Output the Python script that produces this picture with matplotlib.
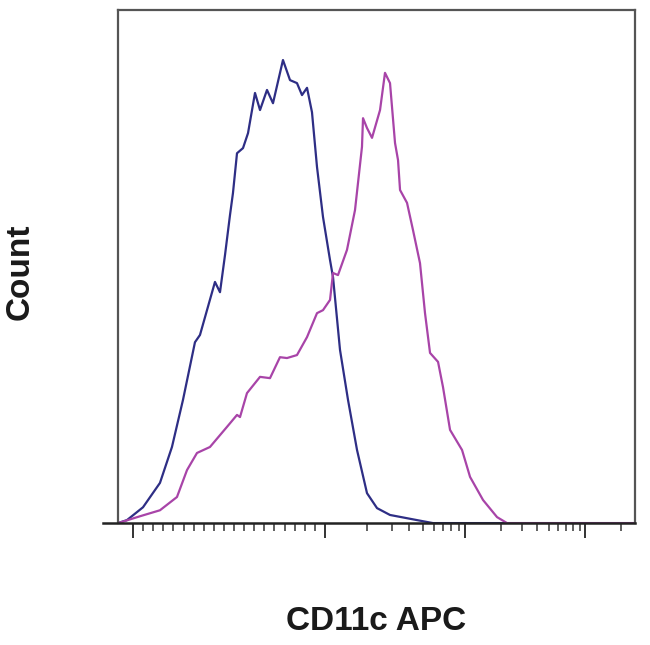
import numpy as np
import matplotlib
matplotlib.use("Agg")
import matplotlib.pyplot as plt

# channel position (0-1000 across the plot) and count for each histogram
blue_x = [0, 17.4, 48.4, 81.2, 104.4, 125.7, 148.9, 158.6, 187.6, 197.3, 207.0,
          216.6, 222.4, 230.2, 241.8, 251.5, 265.0, 274.7, 288.2, 299.8, 319.1,
          332.7, 346.2, 355.9, 365.6, 375.2, 384.9, 396.5, 410.1, 415.9, 429.4,
          444.9, 462.3, 481.6, 501.0, 526.1, 578.3, 609.3, 1000]
blue_y = [0, 0.7, 3.7, 9.4, 17.8, 28.8, 42.3, 44.0, 56.4, 54.0, 62.7,
          72.0, 77.2, 86.5, 87.7, 91.2, 100.6, 96.6, 101.3, 98.2, 108.3,
          103.6, 102.9, 100.1, 101.8, 96.1, 83.3, 71.6, 61.5, 57.5, 40.5,
          28.8, 17.1, 7.0, 3.5, 1.9, 0.7, 0, 0]

mag_x = [0, 13.5, 42.6, 81.2, 114.1, 133.5, 152.8, 177.9, 210.8, 230.2, 236.0,
         249.5, 274.7, 294.0, 313.3, 326.9, 346.2, 365.6, 384.9, 396.5, 410.1,
         415.9, 425.5, 442.9, 458.4, 471.9, 473.9, 481.6, 491.3, 506.8, 516.4,
         526.1, 535.8, 541.6, 545.5, 559.0, 570.6, 584.1, 593.8, 603.5, 619.0,
         628.6, 642.2, 665.4, 680.9, 706.0, 733.1, 752.4, 1000]
mag_y = [0, 0.5, 1.6, 3.0, 6.1, 12.4, 16.4, 17.8, 22.5, 25.3, 24.8,
         30.4, 34.2, 33.9, 38.8, 38.6, 39.3, 43.5, 49.1, 49.8, 52.2,
         58.5, 58.0, 63.9, 73.2, 88.0, 94.7, 92.4, 90.1, 96.6, 105.3,
         102.9, 88.9, 84.9, 77.9, 74.9, 68.5, 60.8, 49.1, 39.8, 37.7,
         31.8, 21.8, 17.1, 10.8, 5.4, 1.4, 0, 0]

# decade tick positions (logicle-style axis)
major_ticks = [29.0, 400.4, 671.2, 903.3]

fig = plt.figure(figsize=(6.5, 6.45), dpi=100)
ax = fig.add_axes([0.1815, 0.189, 0.7955, 0.7955])

ax.plot(blue_x, blue_y, color="#2e2e85", linewidth=1.6)
ax.plot(mag_x, mag_y, color="#a844a8", linewidth=1.6)

ax.set_xlim(0, 1000)
ax.set_ylim(0, 120)

# minor ticks: linear part then log offsets in each decade
minor = list(np.linspace(major_ticks[0], major_ticks[1], 20)[1:-1])
for a, b in zip(major_ticks[1:-1], major_ticks[2:]):
    minor += [a + (b - a) * np.log10(k) for k in range(2, 10)]
last = major_ticks[-1]
span = major_ticks[-1] - major_ticks[-2]
minor += [last + span * np.log10(k) for k in range(2, 10) if last + span * np.log10(k) < 1000]

ax.set_xticks(major_ticks)
ax.set_xticks(minor, minor=True)
ax.set_xticklabels([])
ax.set_yticks([])
ax.tick_params(axis="x", which="major", direction="out", length=10.5, width=1.4, color="#333333")
ax.tick_params(axis="x", which="minor", direction="out", length=5.5, width=1.2, color="#444444")

for side in ["left", "top", "right"]:
    ax.spines[side].set_color("#555555")
    ax.spines[side].set_linewidth(1.6)
ax.spines["bottom"].set_color("#222222")
ax.spines["bottom"].set_linewidth(1.8)
ax.spines["bottom"].set_bounds(-29, 1000)

ax.set_xlabel("CD11c APC", fontsize=24, fontweight="bold", family="Liberation Sans",
              color="#1a1a1a", va="center")
ax.xaxis.set_label_coords(0.5, -0.192)
ax.set_ylabel("Count", fontsize=24, fontweight="bold", family="Liberation Sans",
              color="#1a1a1a", va="center")
ax.yaxis.set_label_coords(-0.19, 0.49)

fig.savefig("out.png", dpi=100)
